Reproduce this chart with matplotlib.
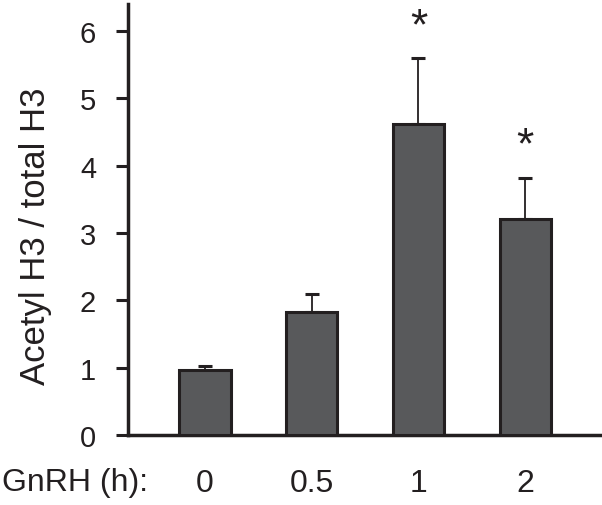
import matplotlib.pyplot as plt
import numpy as np

plt.rcParams['font.family'] = ['Liberation Sans', 'DejaVu Sans']

times = ["0", "0.5", "1", "2"]
ratio = [0.96, 1.83, 4.61, 3.21]
sem = [0.06, 0.27, 0.98, 0.61]
significant = [False, False, True, True]

fig = plt.figure(figsize=(6.02, 5.06), dpi=100)
ax = fig.add_axes([0.2126, 0.1383, 0.7841, 0.852])

x = np.arange(len(times))
ax.bar(x, ratio, width=0.48, color="#58595b", edgecolor="#231f20", linewidth=2.2, zorder=3)
ax.errorbar(x, ratio, yerr=[np.zeros(len(sem)), sem], fmt="none", ecolor="#231f20",
            elinewidth=1.3, capsize=5, capthick=2.2, zorder=2)

for xi, v, e, sig in zip(x, ratio, sem, significant):
    if sig:
        ax.annotate("*", (xi, v + e), xytext=(0, 8), textcoords="offset points",
                    ha="center", va="bottom", fontsize=32, color="#231f20")

ax.set_xlim(-0.72, 3.7)
ax.set_ylim(0, 6.4)
ax.set_yticks(range(0, 7))
ax.set_xticks(x)
ax.set_xticklabels(times)
ax.tick_params(axis="y", length=9, width=2.2, labelsize=21, pad=14, color="#231f20",
               labelcolor="#231f20")
ax.tick_params(axis="x", length=0, labelsize=23, pad=24, labelcolor="#231f20")
for side in ("top", "right"):
    ax.spines[side].set_visible(False)
for side in ("left", "bottom"):
    ax.spines[side].set_linewidth(2.5)
    ax.spines[side].set_color("#231f20")

ax.set_ylabel("Acetyl H3 / total H3", fontsize=25, color="#231f20")
ax.yaxis.set_label_coords(-0.16, 0.464)
fig.text(0.003, 0.045, "GnRH (h):", fontsize=23, ha="left", va="center", color="#231f20")

fig.savefig("out.png", dpi=100)
